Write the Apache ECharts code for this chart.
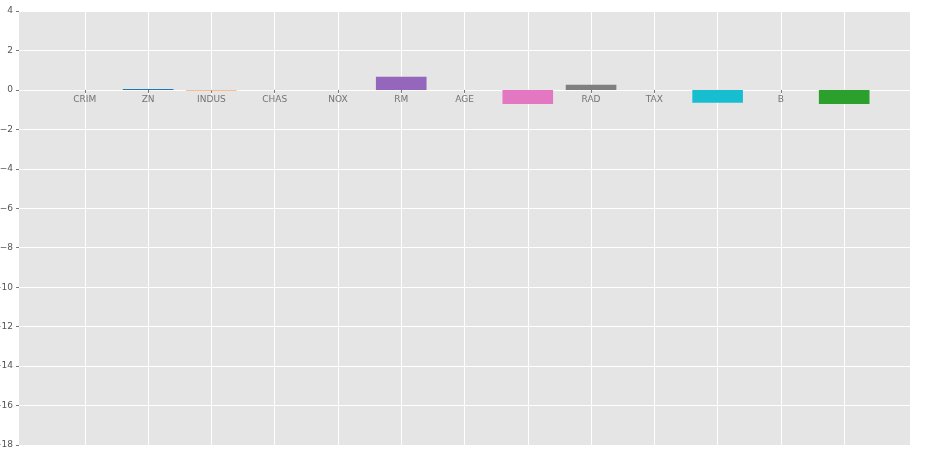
<!DOCTYPE html>
<html>
<head>
<meta charset="utf-8">
<script src="https://cdn.jsdelivr.net/npm/echarts@6/dist/echarts.min.js"></script>
<style>html,body{margin:0;padding:0;background:#fff;}#c{width:931px;height:453px;}</style>
</head>
<body>
<div id="c"></div>
<script>
const categories = ['CRIM','ZN','INDUS','CHAS','NOX','RM','AGE','DIS','RAD','TAX','PTRATIO','B','LSTAT'];
const coefValues = [0, 0.05, -0.04, 0, 0, 0.67, 0, -0.71, 0.26, 0, -0.65, 0, -0.71];
const barColors = ['#1f77b4','#1f77b4','#f9a66c','#ff7f0e','#d62728','#9467bd','#8c564b','#e377c2','#7f7f7f','#bcbd22','#17becf','#aec7e8','#2ca02c'];
const yMin = -18, yMax = 4, yStep = 2;

const catIdx = categories.map((c, i) => i);
const pad = 0.4 + 0.05 * (categories.length - 1 + 0.8); // matplotlib default margins around bars

const chart = echarts.init(document.getElementById('c'), null, {renderer: 'canvas'});
const fontFamily = 'DejaVu Sans';
chart.setOption({
  animation: false,
  backgroundColor: '#ffffff',
  grid: {left: 19, right: 21, top: 11, bottom: 8, show: true, backgroundColor: '#e5e5e5', borderWidth: 0, containLabel: false, outerBoundsMode: 'none'},
  xAxis: {
    type: 'value', min: -pad, max: categories.length - 1 + pad, z: 0,
    axisLine: {show: true, onZero: true, lineStyle: {color: '#ffffff', width: 1}},
    axisTick: {show: true, length: 3, customValues: catIdx, lineStyle: {color: '#777777'}},
    axisLabel: {show: false, customValues: catIdx},
    splitLine: {show: true, lineStyle: {color: '#ffffff', width: 1}}
  },
  yAxis: {
    type: 'value', min: yMin, max: yMax, interval: yStep,
    axisLine: {show: false, onZero: false},
    axisTick: {show: true, length: 3, lineStyle: {color: '#777777'}},
    axisLabel: {margin: 6, fontSize: 9, color: '#555555', fontFamily: fontFamily,
      formatter: v => (v < 0 ? '\u2212' + Math.abs(v) : String(v))},
    splitLine: {show: true, lineStyle: {color: '#ffffff', width: 1}}
  },
  series: [
    {
      // category tick labels sitting on the zero line (drawn beneath the bars)
      type: 'scatter', z: 1, symbolSize: 0, silent: true,
      data: categories.map((c, i) => [i, 0]),
      label: {show: true, position: 'bottom', distance: 5, fontSize: 9, color: '#555555', fontFamily: fontFamily,
        formatter: p => categories[p.dataIndex]}
    },
    {
      type: 'bar', z: 3, clip: false,
      barWidth: '80%',
      itemStyle: {borderWidth: 0},
      data: coefValues.map((v, i) => ({value: [i, v === 0 ? null : v], itemStyle: {color: barColors[i]}}))
    }
  ]
});
</script>
</body>
</html>
